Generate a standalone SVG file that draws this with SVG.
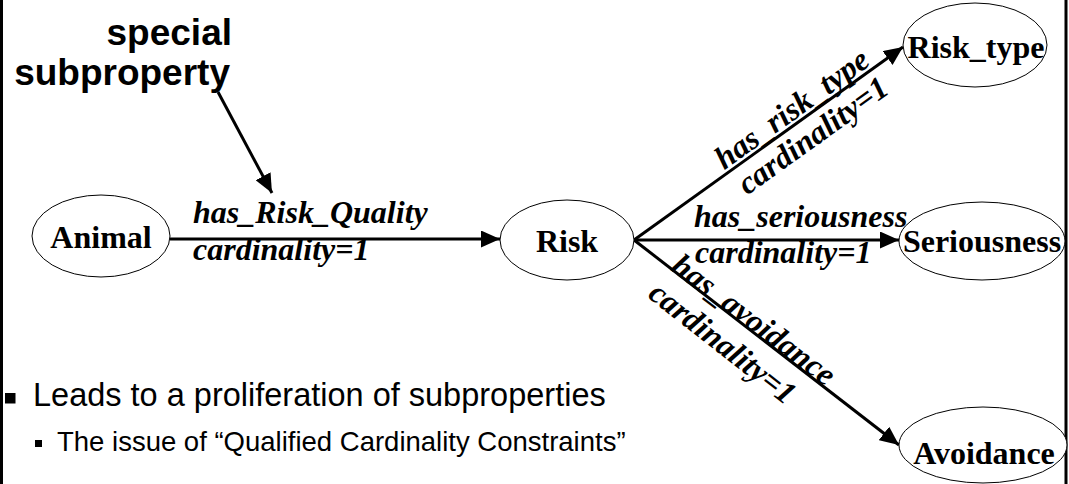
<svg xmlns="http://www.w3.org/2000/svg" width="1069" height="484" viewBox="0 0 1069 484">
  <style>
    .node ellipse { fill: #fff; stroke: #000; stroke-width: 1; }
    .node text { font-family: "Liberation Serif", "Times New Roman", serif; font-weight: bold; font-size: 32px; text-anchor: middle; fill: #000; }
    .edge { stroke: #000; stroke-width: 3; fill: none; marker-end: url(#arrow); }
    .lbl { font-family: "Liberation Serif", "Times New Roman", serif; font-weight: bold; font-style: italic; font-size: 32px; fill: #000; }
    .note { font-family: "Liberation Sans", Arial, sans-serif; font-weight: bold; font-size: 37px; fill: #000; text-anchor: end; }
    .b1 { font-family: "Liberation Sans", Arial, sans-serif; font-size: 32.5px; fill: #000; }
    .b2 { font-family: "Liberation Sans", Arial, sans-serif; font-size: 27.5px; fill: #000; }
    .frame { stroke: #000; stroke-width: 3; }
  </style>
  <defs>
    <marker id="arrow" markerUnits="userSpaceOnUse" markerWidth="19" markerHeight="17" refX="19" refY="8.5" orient="auto">
      <path d="M0,0 L19,8.5 L0,17 z" fill="#000"/>
    </marker>
  </defs>

  <rect width="1069" height="484" fill="#fff"/>
  <line class="frame" x1="1.5" y1="0" x2="1.5" y2="484"/>
  <line class="frame" x1="1066" y1="0" x2="1066" y2="484"/>

  <!-- callout -->
  <g id="callout">
    <text class="note" x="232" y="45">special</text>
    <text class="note" x="230" y="85">subproperty</text>
  </g>

  <!-- connectors -->
  <g id="connectors">
    <line class="edge" x1="218" y1="92" x2="272" y2="193"/>
    <line class="edge" x1="170" y1="239" x2="500" y2="239"/>
    <line class="edge" x1="634" y1="240" x2="903" y2="47"/>
    <line class="edge" x1="634" y1="240" x2="899" y2="240"/>
    <line class="edge" x1="634" y1="240" x2="899" y2="445"/>

    <text class="lbl" x="193" y="223">has_Risk_Quality</text>
    <text class="lbl" x="193" y="260">cardinality=1</text>

    <g transform="translate(634,240) rotate(-35.7)">
      <text class="lbl" x="114" y="-4">has_risk_type</text>
      <text class="lbl" x="118" y="30">cardinality=1</text>
    </g>

    <text class="lbl" x="694" y="227">has_seriousness</text>
    <text class="lbl" x="695" y="263">cardinality=1</text>

    <g transform="translate(634,240) rotate(37)">
      <text class="lbl" x="46" y="2">has_avoidance</text>
    </g>
    <g transform="translate(634,240) rotate(38)">
      <text class="lbl" x="45" y="37">cardinality=1</text>
    </g>
  </g>

  <!-- nodes -->
  <g id="animal" class="node">
    <ellipse cx="101" cy="236" rx="69" ry="41"/>
    <text x="101" y="248">Animal</text>
  </g>
  <g id="risk" class="node">
    <ellipse cx="567" cy="240" rx="67" ry="40"/>
    <text x="567" y="252">Risk</text>
  </g>
  <g id="risk_type" class="node">
    <ellipse cx="975" cy="45" rx="72" ry="42"/>
    <text x="976" y="58">Risk_type</text>
  </g>
  <g id="seriousness" class="node">
    <ellipse cx="982" cy="241" rx="83" ry="39"/>
    <text x="982" y="252">Seriousness</text>
  </g>
  <g id="avoidance" class="node">
    <ellipse cx="983" cy="445" rx="84" ry="38"/>
    <text x="984" y="464">Avoidance</text>
  </g>

  <!-- bullet list -->
  <g id="bullets">
    <rect x="5" y="393" width="10.5" height="10.5" fill="#000"/>
    <text class="b1" x="33" y="406">Leads to a proliferation of subproperties</text>
    <rect x="35" y="440" width="7" height="7" fill="#000"/>
    <text class="b2" x="57" y="451">The issue of “Qualified Cardinality Constraints”</text>
  </g>
</svg>
